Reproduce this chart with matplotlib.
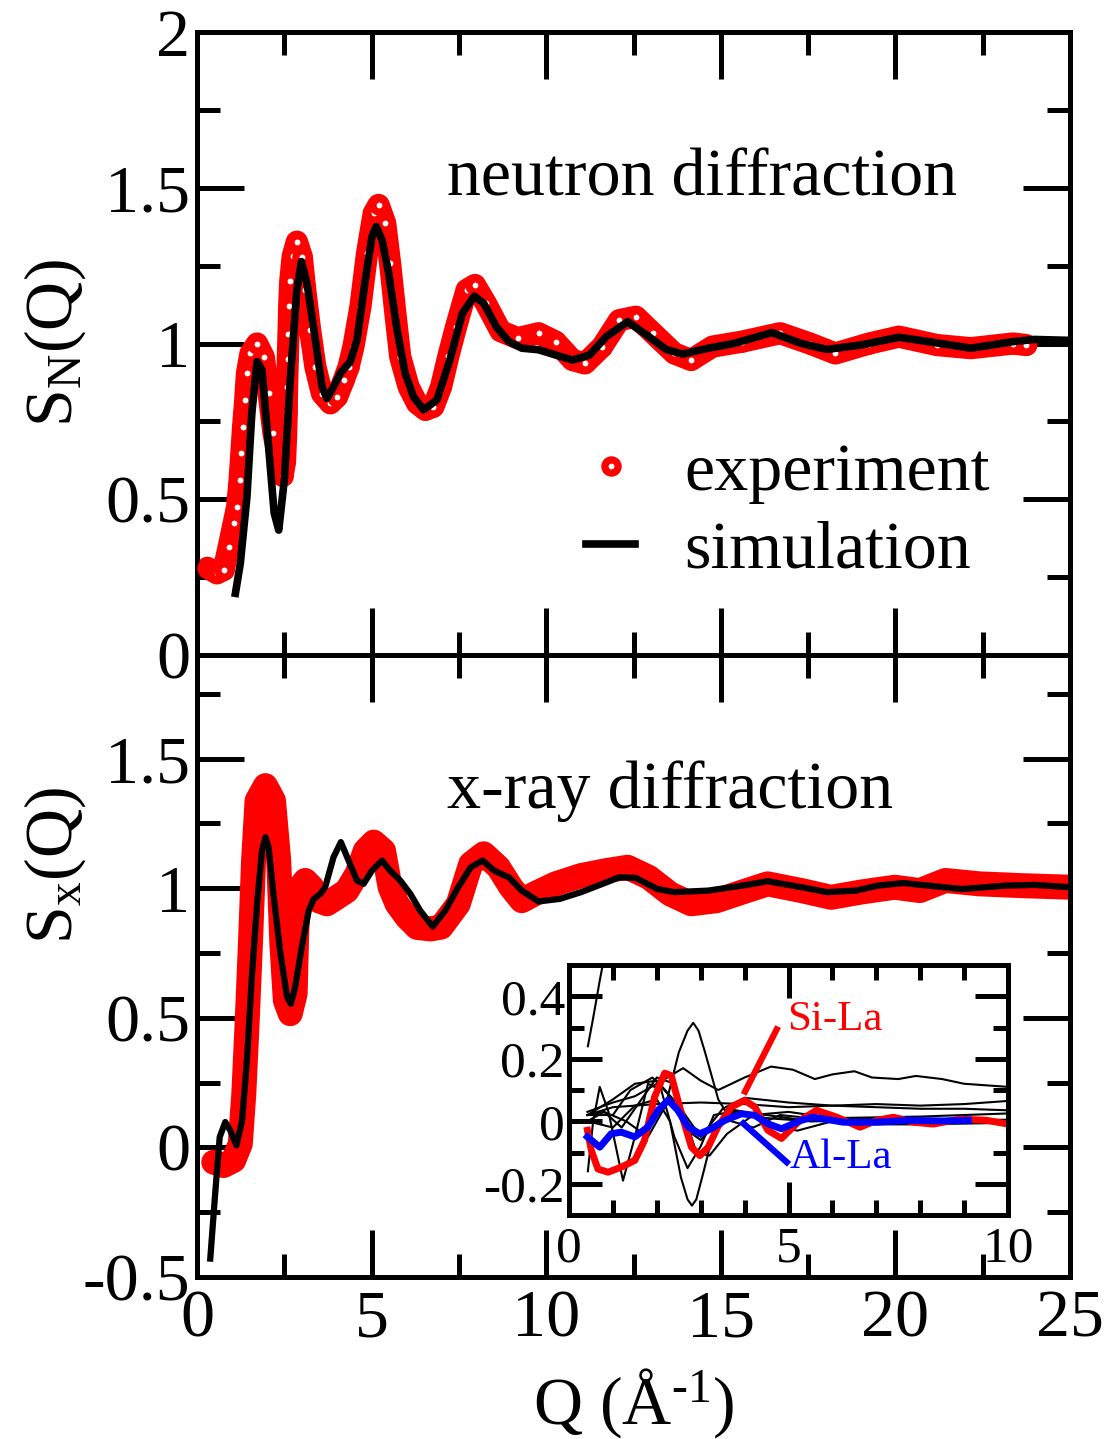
import matplotlib
matplotlib.use("Agg")
import matplotlib.pyplot as plt
from matplotlib.ticker import MultipleLocator, FuncFormatter
from matplotlib.lines import Line2D

plt.rcParams['font.family'] = ['Liberation Serif', 'DejaVu Serif']
plt.rcParams['mathtext.fontset'] = 'custom'
plt.rcParams['mathtext.rm'] = 'Liberation Serif'
plt.rcParams['mathtext.it'] = 'Liberation Serif:italic'
plt.rcParams['axes.unicode_minus'] = False

# neutron S_N(Q): experiment
qn_exp = [0.30, 0.45, 0.57, 0.76, 0.91, 1.05, 1.15, 1.22, 1.27, 1.32, 1.38, 1.43,
          1.53, 1.72, 1.91, 2.05, 2.19, 2.34, 2.45, 2.52, 2.55, 2.57, 2.58, 2.60,
          2.62, 2.64, 2.67, 2.74, 2.86, 3.00, 3.10, 3.24, 3.39, 3.58, 3.82, 4.01,
          4.20, 4.34, 4.48, 4.68, 4.87, 5.06, 5.20, 5.39, 5.53, 5.68, 5.82, 6.06,
          6.30, 6.54, 6.77, 6.99, 7.20, 7.42, 7.72, 7.96, 8.27, 8.69, 9.18, 9.78,
          10.27, 10.75, 11.11, 11.60, 12.09, 12.57, 13.06, 13.67, 14.15, 14.76,
          15.61, 16.70, 17.55, 18.28, 19.25, 20.10, 21.19, 22.16, 23.37, 23.75]
sn_exp = [0.28, 0.27, 0.262, 0.273, 0.348, 0.423, 0.476, 0.562, 0.647, 0.733, 0.818, 0.904,
          0.968, 1.00, 0.957, 0.84, 0.712, 0.626, 0.575, 0.62, 0.70, 0.78, 0.86, 0.95,
          1.03, 1.12, 1.20, 1.28, 1.327, 1.279, 1.172, 1.043, 0.925, 0.839, 0.808, 0.829,
          0.882, 0.925, 0.99, 1.118, 1.29, 1.418, 1.445, 1.386, 1.257, 1.097, 0.957, 0.861,
          0.808, 0.787, 0.797, 0.861, 0.96, 1.054, 1.172, 1.188, 1.129, 1.04, 1.017, 1.033,
          1.006, 0.947, 0.936, 0.99, 1.075, 1.086, 1.033, 0.968, 0.947, 0.99,
          1.006, 1.033, 1.00, 0.968, 1.00, 1.022, 0.995, 0.985, 1.00, 0.995]

# neutron S_N(Q): simulation
qn_sim = [1.10, 1.24, 1.43, 1.57, 1.72, 1.86, 2.05, 2.21, 2.34, 2.50, 2.67, 2.86,
          2.99, 3.15, 3.39, 3.58, 3.72, 3.91, 4.10, 4.39, 4.58, 4.82, 5.01, 5.13,
          5.30, 5.49, 5.73, 5.96, 6.20, 6.49, 6.87, 7.24, 7.60, 7.94, 8.21, 8.57,
          8.93, 9.30, 9.78, 10.27, 10.75, 11.24, 11.72, 12.33, 12.94, 13.43, 13.91,
          14.64, 15.37, 16.46, 17.31, 18.04, 19.00, 20.10, 20.95, 22.16, 23.37,
          23.98, 25.0]
sn_sim = [0.198, 0.294, 0.508, 0.777, 0.942, 0.915, 0.669, 0.456, 0.401, 0.562, 0.883, 1.172,
          1.263, 1.193, 1.011, 0.861, 0.824, 0.861, 0.904, 0.942, 1.011, 1.204, 1.343, 1.375,
          1.332, 1.225, 1.043, 0.904, 0.829, 0.787, 0.819, 0.947, 1.097, 1.152, 1.129, 1.054,
          1.006, 0.985, 0.98, 0.963, 0.947, 0.963, 1.022, 1.07, 1.022, 0.981, 0.966,
          0.985, 1.00, 1.035, 1.00, 0.981, 0.995, 1.02, 1.006, 0.985, 1.006,
          1.013, 1.01]

# x-ray S_x(Q): experiment
qx_exp = [0.48, 0.76, 1.05, 1.24, 1.34, 1.43, 1.53, 1.62, 1.72, 1.96, 2.19, 2.34,
          2.43, 2.53, 2.67, 2.81, 2.86, 2.96, 3.10, 3.29, 3.48, 3.72, 4.01, 4.29,
          4.58, 4.82, 5.06, 5.34, 5.53, 5.73, 6.01, 6.30, 6.68, 6.99, 7.48, 7.84,
          8.21, 8.63, 8.99, 9.30, 9.66, 10.27, 11.0, 11.72, 12.33, 12.94, 13.55,
          14.15, 14.88, 15.61, 16.34, 17.31, 18.16, 19.0, 19.98, 20.7, 21.43, 22.4,
          23.62, 25.0]
sx_exp = [-0.057, -0.07, -0.05, 0.014, 0.207, 0.464, 0.785, 1.107, 1.338, 1.396, 1.338, 1.107,
          0.785, 0.567, 0.516, 0.593, 0.85, 1.004, 1.03, 1.004, 0.952, 0.94, 0.965, 0.99,
          1.055, 1.145, 1.178, 1.145, 1.004, 0.94, 0.888, 0.849, 0.843, 0.85, 0.939, 1.094,
          1.133, 1.081, 1.004, 0.952, 0.978, 1.017, 1.049, 1.068, 1.081, 1.042, 0.978,
          0.94, 0.952, 0.985, 1.017, 0.991, 0.965, 0.985, 1.004, 0.991, 1.03, 1.017,
          1.01, 1.004]

# x-ray S_x(Q): simulation
qx_sim = [0.38, 0.52, 0.65, 0.81, 0.95, 1.13, 1.29, 1.43, 1.57, 1.72, 1.86, 1.96,
          2.05, 2.19, 2.39, 2.58, 2.69, 2.81, 3.00, 3.20, 3.34, 3.53, 3.67, 3.91,
          4.12, 4.34, 4.58, 4.77, 5.01, 5.30, 5.53, 5.82, 6.11, 6.39, 6.75, 7.11,
          7.48, 7.84, 8.18, 8.51, 8.93, 9.30, 9.78, 10.39, 11.0, 11.48, 12.09,
          12.57, 13.18, 13.67, 14.64, 15.61, 16.34, 17.31, 18.04, 18.88, 19.49,
          20.22, 20.95, 21.92, 23.13, 23.98, 25.0]
sx_sim = [-0.429, -0.179, 0.04, 0.098, 0.066, 0.008, 0.103, 0.336, 0.657, 0.94, 1.145, 1.197,
          1.158, 0.978, 0.747, 0.58, 0.554, 0.618, 0.773, 0.914, 0.958, 0.978, 1.004, 1.12,
          1.178, 1.107, 1.03, 1.017, 1.068, 1.107, 1.068, 1.03, 0.978, 0.914, 0.852, 0.914,
          1.004, 1.081, 1.107, 1.068, 1.042, 0.991, 0.949, 0.959, 0.985, 1.01, 1.042,
          1.04, 0.997, 0.985, 0.991, 1.01, 1.027, 1.004, 0.985, 0.991, 1.01,
          1.02, 1.01, 0.997, 1.01, 1.013, 1.004]

# inset: partial structure factors
q_sila = [0.42, 0.51, 0.66, 0.89, 1.19, 1.50, 1.72, 1.95, 2.18, 2.33, 2.56, 2.79,
          2.98, 3.17, 3.39, 3.70, 4.00, 4.23, 4.53, 4.84, 5.26, 5.64, 6.10, 6.63,
          7.01, 7.39, 7.84, 8.30, 8.91, 9.51, 10.0]
s_sila = [-0.029, -0.094, -0.153, -0.163, -0.147, -0.125, -0.061, 0.078, 0.154, 0.146, 0.025, -0.083,
          -0.11, -0.083, -0.018, 0.046, 0.067, 0.046, -0.029, -0.055, 0.003, 0.035, 0.013, -0.019,
          0.003, 0.013, -0.003, -0.009, 0.007, 0.003, -0.009]
q_alla = [0.42, 0.70, 0.96, 1.19, 1.50, 1.80, 2.03, 2.26, 2.48, 2.71, 2.98, 3.24,
          3.55, 3.93, 4.23, 4.53, 4.84, 5.29, 5.56, 6.25, 6.98, 7.77, 8.50, 9.10]
s_alla = [-0.05, -0.083, -0.04, -0.035, -0.05, -0.018, 0.035, 0.068, 0.035, -0.018, -0.04, -0.024,
          0.003, 0.024, 0.019, -0.008, -0.024, 0.003, 0.013, -0.003, -0.003, 0.003, 0.001, 0.003]

q_other = [
    [0.43, 0.55, 0.70, 0.85],
    [0.42, 1.0, 1.5, 2.0, 2.6, 3.0, 3.4, 4.0, 4.6, 5.1, 5.6, 6.0, 6.5, 6.9, 7.5, 7.9, 8.5, 9.0, 10.0],
    [0.42, 1.0, 1.5, 2.0, 2.5, 3.0, 3.5, 4.0, 5.0, 6.0, 7.0, 8.0, 9.0, 10.0],
    [0.42, 1.0, 2.0, 3.0, 4.0, 5.0, 6.0, 7.0, 8.0, 9.0, 10.0],
    [0.42, 0.8, 1.3, 1.8, 2.2, 2.5, 2.7, 2.83, 2.95, 3.1, 3.4, 3.7, 4.2, 4.8, 5.5, 6.5, 8.0, 10.0],
    [0.42, 1.0, 1.5, 2.0, 2.3, 2.55, 2.7, 2.8, 2.9, 3.05, 3.3, 3.6, 4.0, 4.5, 5.2, 6.0, 7.0, 8.0, 10.0],
    [0.43, 0.55, 0.70, 0.90, 1.23, 1.5, 1.8, 2.1, 2.4, 2.7, 3.0, 3.3, 3.7, 4.5, 5.5, 7.0, 10.0],
    [0.42, 1.0, 1.4, 1.9, 2.3, 2.7, 3.0, 3.4, 3.8, 4.5, 5.5, 7.0, 10.0],
    [0.42, 0.8, 1.2, 1.6, 2.0, 2.4, 2.9, 3.2, 3.6, 4.2, 5.0, 6.0, 8.0, 10.0],
]
s_other = [
    [0.24, 0.33, 0.45, 0.56],
    [0.03, 0.06, 0.08, 0.12, 0.17, 0.13, 0.10, 0.14, 0.175, 0.165, 0.135, 0.15, 0.16, 0.14, 0.135, 0.145, 0.135, 0.12, 0.11],
    [0.02, 0.07, 0.12, 0.13, 0.05, -0.05, 0.04, 0.075, 0.06, 0.05, 0.055, 0.05, 0.055, 0.065],
    [0.02, 0.045, 0.055, 0.06, 0.055, 0.045, 0.05, 0.045, 0.04, 0.04, 0.035],
    [0.0, 0.03, 0.0, -0.05, 0.05, 0.22, 0.29, 0.315, 0.29, 0.22, 0.07, 0.0, -0.02, 0.02, 0.01, -0.01, 0.0, 0.0],
    [0.0, -0.02, 0.05, 0.07, 0.0, -0.18, -0.25, -0.27, -0.25, -0.17, -0.03, 0.04, 0.03, -0.01, -0.03, 0.0, -0.01, -0.01, -0.005],
    [-0.16, 0.0, 0.11, 0.03, -0.19, -0.05, 0.12, 0.10, -0.05, -0.15, -0.08, 0.02, 0.03, 0.02, 0.0, 0.01, 0.0],
    [0.02, 0.02, 0.10, 0.14, 0.08, -0.03, -0.06, 0.0, 0.03, 0.01, 0.0, 0.0, 0.005],
    [0.02, 0.03, -0.02, 0.06, 0.14, 0.12, -0.10, -0.11, -0.04, 0.02, 0.03, 0.01, 0.015, 0.025],
]

RED = '#ff0000'
BLUE = '#0000ff'
FS = 49

fig = plt.figure(figsize=(11.07, 14.39), dpi=100)
ax1 = fig.add_axes([0.17796, 0.54482, 0.78862, 0.43294])
ax2 = fig.add_axes([0.17796, 0.11258, 0.78862, 0.43224], sharex=ax1)

# top panel: experiment drawn as dense open circles over a red band
ax1.plot(qn_exp, sn_exp, color=RED, lw=16, solid_capstyle='round', solid_joinstyle='round', zorder=2)
ax1.plot(qn_exp, sn_exp, 'o', ms=9.5, mew=5.2, mec=RED, mfc='white', zorder=3)
ax1.plot(qn_sim, sn_sim, color='black', lw=5.5, zorder=4)

# bottom panel
ax2.plot(qx_exp, sx_exp, color=RED, lw=18, solid_capstyle='round', solid_joinstyle='round', zorder=2)
ax2.plot(qx_sim, sx_sim, color='black', lw=4.5, zorder=4)

for ax in (ax1, ax2):
    ax.set_xlim(0, 25)
    ax.xaxis.set_major_locator(MultipleLocator(5))
    ax.xaxis.set_minor_locator(MultipleLocator(2.5))
    ax.yaxis.set_major_locator(MultipleLocator(0.5))
    ax.yaxis.set_minor_locator(MultipleLocator(0.25))
    ax.yaxis.set_major_formatter(FuncFormatter(lambda v, p: '%g' % v))
    ax.xaxis.set_major_formatter(FuncFormatter(lambda v, p: '%g' % v))
    ax.tick_params(which='both', direction='in', top=True, right=True, width=3.6)
    ax.tick_params(which='major', length=34, labelsize=FS)
    ax.tick_params(which='minor', length=16.5)
    ax.tick_params(axis='x', pad=9)
    ax.tick_params(axis='y', pad=5)
    for s in ax.spines.values():
        s.set_linewidth(3.6)

ax1.set_ylim(0, 2)
ax2.set_ylim(-0.5, 1.9)
ax1.tick_params(axis='x', labelbottom=False)

ax1.set_ylabel(r'S$_\mathrm{N}$(Q)', fontsize=FS)
ax1.yaxis.set_label_coords(-0.125, 0.5)
ax2.set_ylabel(r'S$_\mathrm{x}$(Q)', fontsize=FS)
ax2.yaxis.set_label_coords(-0.125, 0.661)
ax2.set_xlabel('Q (Å$^{\\mathrm{\u20101}}$)', fontsize=FS, labelpad=11)

ax1.text(0.2864, 0.738, 'neutron diffraction', transform=ax1.transAxes,
         fontsize=FS, ha='left', va='baseline')
ax2.text(0.2864, 0.754, 'x-ray diffraction', transform=ax2.transAxes,
         fontsize=FS, ha='left', va='baseline')

h_exp = Line2D([], [], ls='none', marker='o', ms=9.5, mew=5.2, mec=RED, mfc='white')
h_sim = Line2D([], [], color='black', lw=5.5)
ax1.legend([h_exp, h_sim], ['experiment', 'simulation'], loc='upper left',
           bbox_to_anchor=(0.4456, 0.341), frameon=False, fontsize=FS,
           handlelength=0.72, handletextpad=0.73, labelspacing=0.23,
           borderpad=0, borderaxespad=0)

# inset
ax3 = fig.add_axes([0.514, 0.15566, 0.3966, 0.17373])
ax3.set_facecolor('white')
for qo, so in zip(q_other, s_other):
    ax3.plot(qo, so, color='black', lw=1.5)
ax3.plot(q_sila, s_sila, color=RED, lw=5)
ax3.plot(q_alla, s_alla, color=BLUE, lw=5)
ax3.plot([4.01, 4.73], [0.095, 0.294], color=RED, lw=4.5)
ax3.plot([3.97, 4.96], [-0.007, -0.131], color=BLUE, lw=4.5)
ax3.text(4.97, 0.326, 'Si-La', color=RED, fontsize=31, ha='left', va='center')
ax3.text(5.03, -0.116, 'Al-La', color=BLUE, fontsize=31, ha='left', va='center')
ax3.set_xlim(0, 10)
ax3.set_ylim(-0.3, 0.5)
ax3.xaxis.set_major_locator(MultipleLocator(5))
ax3.xaxis.set_minor_locator(MultipleLocator(1))
ax3.yaxis.set_major_locator(MultipleLocator(0.2))
ax3.yaxis.set_minor_locator(MultipleLocator(0.1))
ax3.xaxis.set_major_formatter(FuncFormatter(lambda v, p: '%g' % v))
ax3.yaxis.set_major_formatter(FuncFormatter(lambda v, p: '%g' % round(v, 2)))
ax3.tick_params(which='both', direction='in', top=True, right=True, width=3.6)
ax3.tick_params(which='major', length=24, labelsize=37)
ax3.tick_params(which='minor', length=11)
ax3.tick_params(axis='x', pad=8)
ax3.tick_params(axis='y', pad=3)
for s in ax3.spines.values():
    s.set_linewidth(3.6)

fig.savefig('out.png', dpi=100)
